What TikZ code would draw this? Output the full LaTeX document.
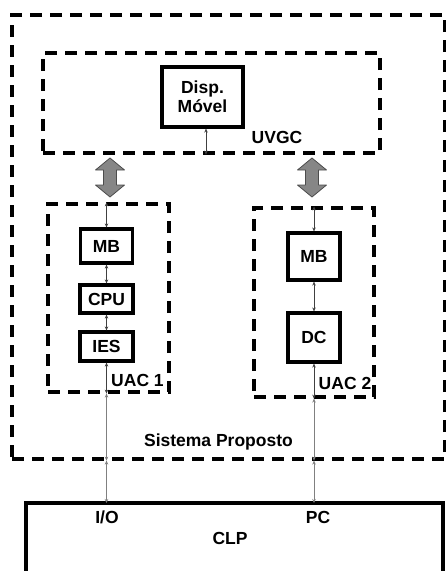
\documentclass[tikz,border=0pt]{standalone}
\usepackage{fontspec}
\setmainfont{Liberation Sans}
\usetikzlibrary{arrows.meta}
\begin{document}
\begin{tikzpicture}[x=1pt,y=-1pt,
  every node/.style={font=\fontsize{17.5}{19}\selectfont\bfseries},
  dbox/.style={draw, line width=3.2pt, dash pattern=on 12pt off 8pt, inner sep=0pt},
  sbox/.style={draw, line width=3.2pt, inner sep=0pt, align=center},
  lbl/.style={inner sep=0pt},
  sarrow/.style={line width=0.8pt, draw=black!75, {Stealth[length=4pt,width=3.5pt]}-{Stealth[length=4pt,width=3.5pt]}},
  garrow/.style={line width=0.8pt, draw=gray, {Stealth[length=4pt,width=3.5pt]}-{Stealth[length=4pt,width=3.5pt]}},
  gbig/.pic={\draw[fill=gray!95, draw=gray!60!black, line width=0.8pt, line join=round]
     (0,0) -- (14.5,12) -- (6.5,12) -- (6.5,27) -- (14.5,27) -- (0,39)
     -- (-14.5,27) -- (-6.5,27) -- (-6.5,12) -- (-14.5,12) -- cycle;}]
\useasboundingbox (0,0) rectangle (446,571);
% boxes
\node[dbox, minimum width=433, minimum height=444] (outer) at (228.5,237) {};
\node[dbox, minimum width=337, minimum height=100] (uvgc) at (211.5,103) {};
\node[sbox, minimum width=81, minimum height=60] (disp) at (202.5,97) {Disp.\\Móvel};
\node[dbox, minimum width=121, minimum height=188] (uac1) at (108.5,298) {};
\node[dbox, minimum width=120, minimum height=189] (uac2) at (314,302.5) {};
\node[sbox, minimum width=52, minimum height=34] (mb1) at (106.5,246) {MB};
\node[sbox, minimum width=53, minimum height=28] (cpu) at (106.5,299) {CPU};
\node[sbox, minimum width=53, minimum height=29] (ies) at (106.5,346.5) {IES};
\node[sbox, minimum width=52, minimum height=47] (mb2) at (314,256.5) {MB};
\node[sbox, minimum width=52, minimum height=49] (dc) at (314,337.5) {DC};
\draw[line width=3.2pt] (26,620) -- (26,503) coordinate (clpnw) -- (443,503) coordinate (clpne) -- (443,620);
\coordinate (clpn) at (234.5,503);
% labels
\node[lbl] (luvgc) at (277,137) {UVGC};
\node[lbl] (lsist) at (218.5,442) {Sistema Proposto};
\node[lbl] (luac1) at (137.5,380) {UAC 1};
\node[lbl] (luac2) at (345,383) {UAC 2};
\node[lbl] (lio) at (107,517) {I/O};
\node[lbl] (lpc) at (318,517) {PC};
\node[lbl] (lclp) at (230,538) {CLP};
% big arrows
\pic at (110,158) {gbig};
\pic at (312,158) {gbig};
% small arrows
\draw[sarrow] ([xshift=3.5pt]disp.south) -- ([xshift=3.5pt]disp.south |- uvgc.south);
\draw[sarrow] (mb1.north) -- (mb1.north |- uac1.north);
\draw[sarrow] (mb1) -- (cpu);
\draw[sarrow] (cpu) -- (ies);
\draw[sarrow] (ies.south) -- (ies.south |- uac1.south);
\draw[garrow] (ies.south |- uac1.south) -- (ies.south |- outer.south);
\draw[garrow] (ies.south |- outer.south) -- (ies.south |- clpn);
\draw[sarrow] (mb2.north) -- (mb2.north |- uac2.north);
\draw[sarrow] (mb2) -- (dc);
\draw[sarrow] (dc.south) -- (dc.south |- uac2.south);
\draw[garrow] (dc.south |- uac2.south) -- (dc.south |- outer.south);
\draw[garrow] (dc.south |- outer.south) -- (dc.south |- clpn);
\end{tikzpicture}
\end{document}
